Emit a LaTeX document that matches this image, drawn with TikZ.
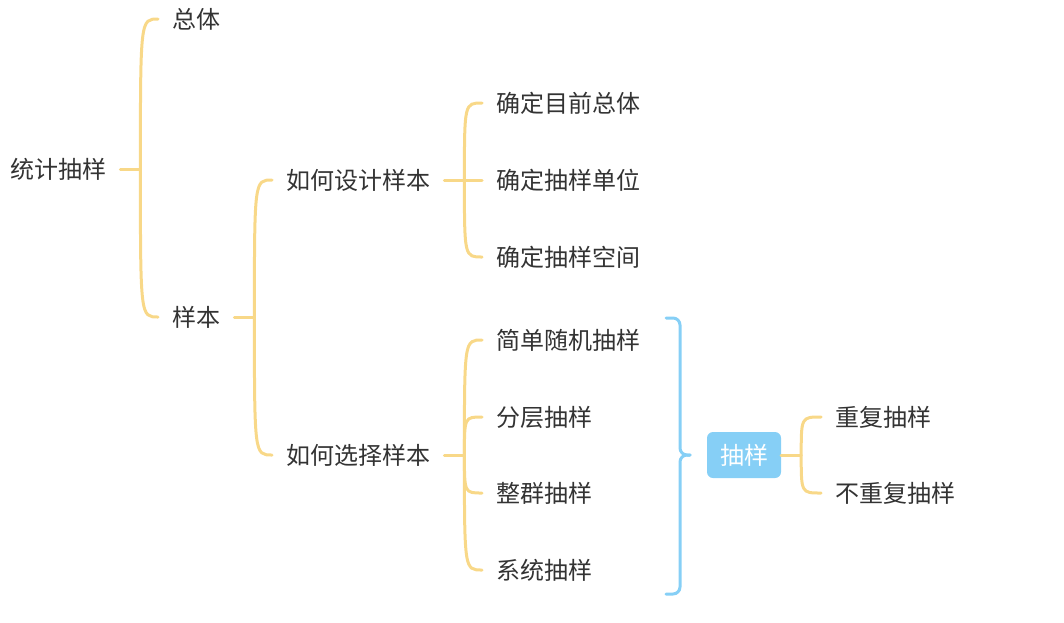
\documentclass[tikz,border=0pt]{standalone}
\usepackage{fontspec}
\setmainfont{Noto Sans CJK SC}
\definecolor{txt}{HTML}{333333}
\definecolor{yel}{HTML}{F8D888}
\definecolor{blu}{HTML}{86CFF6}
\begin{document}
\begin{tikzpicture}[x=1pt,y=-1pt,
  t/.style={anchor=west, inner xsep=14pt, inner ysep=2pt, text=txt, font=\fontsize{24}{26}\selectfont},
  box/.style={fill=blu, rounded corners=6pt, minimum width=74pt, minimum height=46pt, inner xsep=0pt, text=white, font=\fontsize{24}{26}\selectfont},
  yl/.style={draw=yel, line width=3pt, line cap=round},
  bl/.style={draw=blu, line width=3pt, line cap=round, rounded corners=7pt}]
\useasboundingbox (0,0) rectangle (1064,622);
\node[t] (root) at (-4,169) {统计抽样};
\node[t] (zt) at (158,19) {总体};
\node[t] (yb) at (158,317) {样本};
\node[t] (sj) at (272,180) {如何设计样本};
\node[t] (xz) at (272,455) {如何选择样本};
\node[t] (c1) at (482,103) {确定目前总体};
\node[t] (c2) at (482,180) {确定抽样单位};
\node[t] (c3) at (482,257) {确定抽样空间};
\node[t] (d1) at (482,340) {简单随机抽样};
\node[t] (d2) at (482,417) {分层抽样};
\node[t] (d3) at (482,493) {整群抽样};
\node[t] (d4) at (482,570) {系统抽样};
\node[box] (cy) at (744,455) {抽样};
\node[t] (e1) at (821,417) {重复抽样};
\node[t] (e2) at (821,493) {不重复抽样};
% root
\draw[yl] (root.east) -- ++(20,0) coordinate (b1);
\draw[yl] (b1) .. controls (b1 |- zt.west) .. (zt.west);
\draw[yl] (b1) .. controls (b1 |- yb.west) .. (yb.west);
% 样本
\draw[yl] (yb.east) -- ++(20,0) coordinate (b2);
\draw[yl] (b2) .. controls (b2 |- sj.west) .. (sj.west);
\draw[yl] (b2) .. controls (b2 |- xz.west) .. (xz.west);
% 设计
\draw[yl] (sj.east) -- ++(20,0) coordinate (b3);
\draw[yl] (b3) .. controls (b3 |- c1.west) .. (c1.west);
\draw[yl] (b3) -- (c2.west);
\draw[yl] (b3) .. controls (b3 |- c3.west) .. (c3.west);
% 选择
\draw[yl] (xz.east) -- ++(20,0) coordinate (b4);
\draw[yl] (b4) .. controls (b4 |- d1.west) .. (d1.west);
\draw[yl] (b4) .. controls (b4 |- d2.west) .. (d2.west);
\draw[yl] (b4) .. controls (b4 |- d3.west) .. (d3.west);
\draw[yl] (b4) .. controls (b4 |- d4.west) .. (d4.west);
% brace
\coordinate (bt) at (666,318);
\coordinate (bb) at (666,594);
\coordinate (btip) at (690,455);
\draw[bl] (bt) -- (680,318) -- (680,455) -- (btip);
\draw[bl] (bb) -- (680,594) -- (680,455) -- (btip);
% 抽样
\draw[yl] (cy.east) -- ++(20,0) coordinate (b5);
\draw[yl] (b5) .. controls (b5 |- e1.west) .. (e1.west);
\draw[yl] (b5) .. controls (b5 |- e2.west) .. (e2.west);
\end{tikzpicture}
\end{document}
